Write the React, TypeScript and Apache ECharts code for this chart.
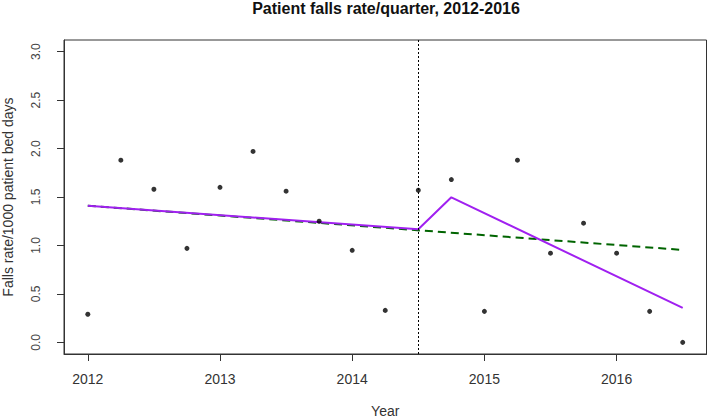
import React, { useEffect, useRef } from "react";
import * as echarts from "echarts";

const quarterX = [
  2012, 2012.25, 2012.5, 2012.75, 2013, 2013.25, 2013.5, 2013.75, 2014, 2014.25,
  2014.5, 2014.75, 2015, 2015.25, 2015.5, 2015.75, 2016, 2016.25, 2016.5,
];
const fallsRate = [
  0.29, 1.88, 1.58, 0.97, 1.6, 1.97, 1.56, 1.25, 0.95, 0.33,
  1.57, 1.68, 0.32, 1.88, 0.92, 1.23, 0.92, 0.32, 0.0,
];
// segmented regression fit (purple)
const fitPreX = [2012, 2014.5];
const fitPreY = [1.41, 1.167];
const fitPostX = [2014.5, 2014.75, 2016.5];
const fitPostY = [1.167, 1.497, 0.355];
// counterfactual pre-trend (green dashed)
const trendX = [2012, 2016.5];
const trendY = [1.41, 0.954];
const interventionX = 2014.5;
const yearTicks = [2012, 2013, 2014, 2015, 2016];
const rateTicks = [0, 0.5, 1, 1.5, 2, 2.5, 3];

const FONT = "'Liberation Sans', Arial, Helvetica, sans-serif";

export default function App() {
  const ref = useRef<HTMLDivElement>(null);
  useEffect(() => {
    if (!ref.current) return;
    const chart = echarts.init(ref.current, null, { renderer: "svg" });
    const zip = (xs: number[], ys: number[]) => xs.map((x, i) => [x, ys[i]]);
    chart.setOption({
      animation: false,
      backgroundColor: "#ffffff",
      title: {
        text: "Patient falls rate/quarter, 2012-2016",
        left: 386,
        top: 0,
        padding: 0,
        textAlign: "center",
        textStyle: { fontFamily: FONT, fontWeight: "bold", fontSize: 16, color: "#111" },
      },
      grid: {
        left: 64,
        right: 1.5,
        top: 40,
        bottom: 65,
        containLabel: false,
        outerBoundsMode: "none",
        show: true,
        borderColor: "#333",
        borderWidth: 1,
        backgroundColor: "transparent",
      },
      xAxis: {
        type: "value",
        min: 2011.82,
        max: 2016.68,
        name: "Year",
        nameLocation: "middle",
        nameGap: 50,
        nameTextStyle: { fontFamily: FONT, fontSize: 14, color: "#333" },
        splitLine: { show: false },
        axisLine: { show: true, onZero: false, lineStyle: { color: "#333", width: 1 } },
        axisTick: { show: true, length: 7, customValues: yearTicks, lineStyle: { color: "#333" } },
        axisLabel: {
          customValues: yearTicks,
          formatter: (v: number) => String(v),
          margin: 18,
          fontFamily: FONT,
          fontSize: 14,
          color: "#333",
        },
      },
      yAxis: {
        type: "value",
        min: -0.12,
        max: 3.12,
        name: "Falls rate/1000 patient bed days",
        nameLocation: "middle",
        nameRotate: 90,
        nameGap: 49,
        nameTextStyle: { fontFamily: FONT, fontSize: 14, color: "#333" },
        splitLine: { show: false },
        axisLine: { show: true, onZero: false, lineStyle: { color: "#333", width: 1 } },
        axisTick: { show: true, length: 7, customValues: rateTicks, lineStyle: { color: "#333" } },
        axisLabel: {
          customValues: rateTicks,
          formatter: (v: number) => v.toFixed(1),
          rotate: 90,
          margin: 22,
          fontFamily: FONT,
          fontSize: 12,
          color: "#444",
        },
      },
      series: [
        {
          type: "line",
          name: "trend",
          data: zip(trendX, trendY),
          showSymbol: false,
          lineStyle: { color: "#006400", width: 2, type: [8, 5] },
          z: 2,
          markLine: {
            silent: true,
            symbol: "none",
            label: { show: false },
            lineStyle: { color: "#000", type: [2, 2], width: 1 },
            data: [{ xAxis: interventionX }],
          },
        },
        {
          type: "line",
          name: "fitPre",
          data: zip(fitPreX, fitPreY),
          showSymbol: false,
          lineStyle: { color: "#A020F0", width: 2 },
          z: 3,
        },
        {
          type: "line",
          name: "fitPost",
          data: zip(fitPostX, fitPostY),
          showSymbol: false,
          lineStyle: { color: "#A020F0", width: 2 },
          z: 3,
        },
        {
          type: "scatter",
          name: "rate",
          data: zip(quarterX, fallsRate),
          symbol: "circle",
          symbolSize: 5,
          itemStyle: { color: "#000" },
          z: 4,
        },
      ],
    });
    return () => chart.dispose();
  }, []);
  return <div ref={ref} style={{ width: 708, height: 419, position: "absolute", left: 0, top: 0 }} />;
}
